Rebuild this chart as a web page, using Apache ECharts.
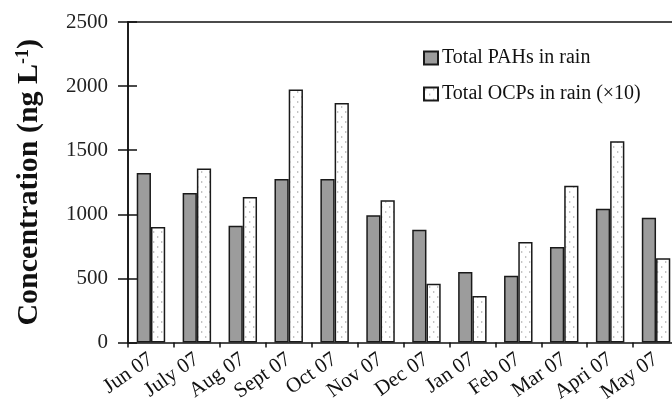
<!DOCTYPE html>
<html>
<head>
<meta charset="utf-8">
<script src="https://cdn.jsdelivr.net/npm/echarts@6/dist/echarts.min.js"></script>
<style>
  html, body { margin: 0; padding: 0; background: #fff; }
  #chart { width: 672px; height: 416px; }
</style>
</head>
<body>
<div id="chart"></div>
<script>
// Monthly rain concentrations (ng/L); OCP values are already multiplied by 10
var months = ['Jun 07', 'July 07', 'Aug 07', 'Sept 07', 'Oct 07', 'Nov 07',
              'Dec 07', 'Jan 07', 'Feb 07', 'Mar 07', 'Apri 07', 'May 07'];
var pahs = [1323, 1166, 910, 1275, 1275, 992, 880, 549, 520, 744, 1043, 973];
var ocps = [901, 1357, 1134, 1974, 1869, 1109, 458, 363, 783, 1223, 1569, 658];
var yTicks = [0, 500, 1000, 1500, 2000, 2500];

var FONT = '"Liberation Serif", "DejaVu Serif", serif';
var INK = '#111';
var GRID_LEFT = 128, GRID_WIDTH = 551; // plot runs a little past the right edge

// dotted fill used for the OCP bars
function dottedPattern() {
  var c = document.createElement('canvas');
  c.width = 8; c.height = 10;
  var g = c.getContext('2d');
  g.fillStyle = '#ffffff';
  g.fillRect(0, 0, 8, 10);
  g.fillStyle = '#b0b0b0';
  g.beginPath(); g.moveTo(1, 1); g.lineTo(3, 2); g.lineTo(1, 3); g.closePath(); g.fill();
  g.beginPath(); g.moveTo(5, 6); g.lineTo(7, 7); g.lineTo(5, 8); g.closePath(); g.fill();
  return c;
}

var chart = echarts.init(document.getElementById('chart'), null, { renderer: 'canvas' });

var yMin = yTicks[0], yMax = yTicks[yTicks.length - 1];
var gridBox = {
  left: GRID_LEFT, width: GRID_WIDTH, top: 22, bottom: 73.5,
  containLabel: false, outerBoundsMode: 'none'
};
var thinLine = { color: INK, width: 1.5 };

chart.setOption({
  animation: false,
  backgroundColor: '#ffffff',
  // grid 0 holds the bars; grid 1 (same box) only carries the outer y ticks
  grid: [gridBox, gridBox],
  legend: {
    orient: 'vertical',
    left: 418,
    top: 43,
    icon: 'rect',
    itemWidth: 14,
    itemHeight: 13,
    itemGap: 16,
    textStyle: { fontFamily: FONT, fontSize: 20, color: INK, padding: [0, 0, 0, -1] },
    data: ['Total PAHs in rain', 'Total OCPs in rain (\u00d710)']
  },
  xAxis: [{
    type: 'category',
    gridIndex: 0,
    data: months,
    axisLine: { lineStyle: thinLine },
    axisTick: { show: true, length: 5, lineStyle: thinLine },
    axisLabel: {
      rotate: 35,
      margin: 15,
      fontFamily: FONT,
      fontSize: 21,
      color: INK,
      interval: 0
    }
  }, {
    // top frame line
    type: 'category',
    gridIndex: 0,
    position: 'top',
    data: months,
    axisLine: { show: true, lineStyle: thinLine },
    axisTick: { show: false },
    axisLabel: { show: false }
  }, {
    type: 'category',
    gridIndex: 1,
    data: months,
    show: false
  }],
  yAxis: [{
    type: 'value',
    gridIndex: 0,
    min: yMin,
    max: yMax,
    interval: 500,
    name: 'Concentration (ng L{sup|-1})',
    nameLocation: 'middle',
    nameGap: 84,
    nameTextStyle: {
      fontFamily: FONT, fontSize: 30, fontWeight: 'bold', color: INK,
      rich: { sup: { fontFamily: FONT, fontSize: 18, fontWeight: 'bold', color: INK, verticalAlign: 'top', padding: [0, 0, 12, 0] } }
    },
    axisLine: { show: true, lineStyle: thinLine },
    axisTick: { show: true, inside: true, length: 9, lineStyle: thinLine },
    axisLabel: {
      fontFamily: FONT, fontSize: 21, color: '#222', margin: 20,
      formatter: function (v) { return String(v); }
    },
    splitLine: { show: false }
  }, {
    type: 'value',
    gridIndex: 1,
    min: yMin,
    max: yMax,
    interval: 500,
    axisLine: { show: true, lineStyle: thinLine },
    axisTick: { show: true, length: 10, lineStyle: thinLine },
    axisLabel: { show: false },
    splitLine: { show: false }
  }],
  series: [{
    name: 'Total PAHs in rain',
    type: 'bar',
    xAxisIndex: 0,
    yAxisIndex: 0,
    data: pahs,
    barGap: '0%',
    barCategoryGap: '38%',
    itemStyle: { color: '#9c9c9c', borderColor: '#1a1a1a', borderWidth: 1.5 }
  }, {
    name: 'Total OCPs in rain (\u00d710)',
    type: 'bar',
    xAxisIndex: 0,
    yAxisIndex: 0,
    data: ocps,
    barGap: '0%',
    barCategoryGap: '38%',
    itemStyle: {
      color: { image: dottedPattern(), repeat: 'repeat' },
      borderColor: '#1a1a1a',
      borderWidth: 1.5
    }
  }]
});
</script>
</body>
</html>
